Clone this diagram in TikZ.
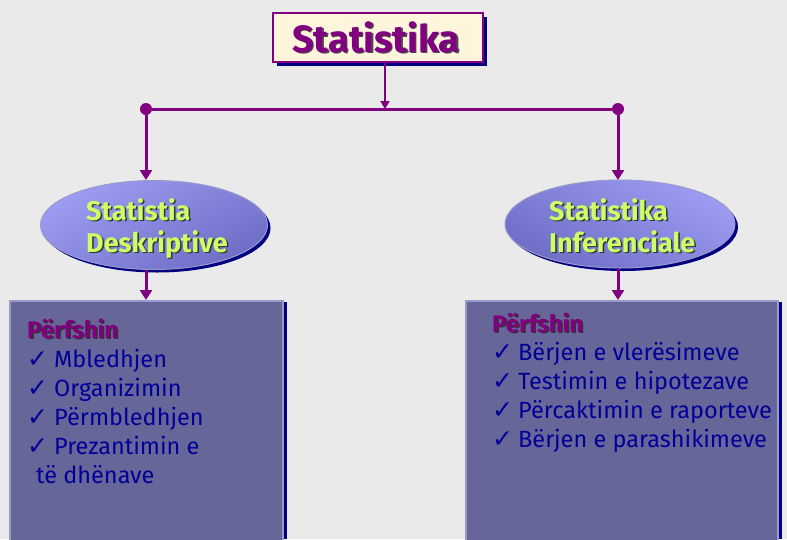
\documentclass[tikz,border=0pt]{standalone}
\usepackage{fontspec}
\setmainfont{Fira Sans}
\newfontfamily\symfont{DejaVu Sans}
\usetikzlibrary{arrows.meta,shadows,shapes.geometric}
\definecolor{bgc}{HTML}{EAEAEA}
\definecolor{purp}{HTML}{800080}
\definecolor{navy}{HTML}{000080}
\definecolor{cream}{HTML}{FFF5DC}
\definecolor{ellA}{HTML}{9C9CF2}
\definecolor{ellB}{HTML}{6E6EC6}
\definecolor{ylw}{HTML}{CCFF66}
\definecolor{boxfill}{HTML}{666699}
\definecolor{boxedge}{HTML}{9999CC}
\definecolor{itemc}{HTML}{000099}
\tikzset{
  conn/.style={draw=purp,line width=3pt},
  connarrow/.style={conn,-{Triangle[length=10pt,width=12pt]}},
  ellnode/.style={ellipse,minimum width=227pt,minimum height=89pt,draw=boxedge,line width=1pt,
    top color=ellA,bottom color=ellB,shading angle=30},
  elltext/.style={anchor=base west,inner sep=0pt,font=\fontsize{27}{27}\selectfont\bfseries},
  headtext/.style={anchor=base west,inner sep=0pt,font=\fontsize{24}{24}\selectfont\bfseries},
  itemtext/.style={anchor=base west,inner sep=0pt,text=itemc,font=\fontsize{23.5}{24}\selectfont},
  checktext/.style={anchor=base west,inner sep=0pt,text=itemc,font=\symfont\fontsize{25}{25}\selectfont},
  itembox/.style={fill=boxfill,draw=boxedge,line width=2pt},
  dot/.style={circle,fill=purp,inner sep=0pt,minimum size=12pt}
}
\begin{document}
\begin{tikzpicture}[x=1pt,y=-1pt]
\fill[bgc] (0,0) rectangle (787,539);
\useasboundingbox (0,0) rectangle (787,539);
% title
\fill[navy] (277,17) rectangle (487,66);
\node[draw=purp,fill=cream,line width=2pt,minimum width=210pt,minimum height=49pt,inner sep=0pt] (title) at (378,37.5) {};
\node[anchor=base west,inner sep=0pt,text=black!70,font=\fontsize{38}{38}\selectfont\bfseries] at (293.5,53.5) {Statistika};
\node[anchor=base west,inner sep=0pt,text=purp,font=\fontsize{38}{38}\selectfont\bfseries] at (292,52) {Statistika};
% junction
\node[dot] (dl) at (146,109) {};
\node[dot] (dr) at (618,109) {};
\coordinate (jc) at (385,109);
\draw[purp,line width=1.8pt,-{Triangle[length=8pt,width=9pt]}] (title.south -| jc) -- (jc);
\draw[conn] (dl) -- (dr);
% ellipses
\fill[navy] (157,228) ellipse (113.5pt and 44.5pt);
\node[ellnode] (e1) at (154,225) {};
\fill[navy] (623,227) ellipse (115pt and 44pt);
\node[ellnode,minimum width=230pt,minimum height=88pt,shading angle=-30] (e2) at (620,224) {};
\draw[connarrow] (dl) -- (146,180);
\draw[connarrow] (dr) -- (618,180);
\node[elltext,text=black!80] at (87.5,221.5) {Statistia};
\node[elltext,text=ylw] at (86,220) {Statistia};
\node[elltext,text=black!80] at (87.5,253.5) {Deskriptive};
\node[elltext,text=ylw] at (86,252) {Deskriptive};
\node[elltext,text=black!80] at (550.5,221.5) {Statistika};
\node[elltext,text=ylw] at (549,220) {Statistika};
\node[elltext,text=black!80] at (550.5,253.5) {Inferenciale};
\node[elltext,text=ylw] at (549,252) {Inferenciale};
% boxes
\fill[navy] (284,302) rectangle (287,539);
\draw[itembox] (10,301) rectangle (283,545);
\fill[navy] (779,302) rectangle (782,539);
\draw[itembox] (466,301) rectangle (778,545);
\coordinate (b1) at (146,300);
\coordinate (b2) at (618,300);
\draw[connarrow] (e1.south -| b1) -- (b1);
\draw[connarrow] (618,269) -- (b2);
% box 1 texts
\node[headtext,text=black!80] at (28.5,339.5) {Përfshin};
\node[headtext,text=purp] at (27,338) {Përfshin};
\foreach \t [count=\i] in {Mbledhjen,Organizimin,Përmbledhjen,Prezantimin e}{
  \node[checktext] at (27,367+29*\i-29) {✓};
  \node[itemtext] at (54,367+29*\i-29) {\t};
}
\node[itemtext] at (36,483) {të dhënave};
% box 2 texts
\node[headtext,text=black!80] at (493.5,333.5) {Përfshin};
\node[headtext,text=purp] at (492,332) {Përfshin};
\foreach \t [count=\i] in {Bërjen e vlerësimeve,Testimin e hipotezave,Përcaktimin e raporteve,Bërjen e parashikimeve}{
  \node[checktext] at (492,360+29*\i-29) {✓};
  \node[itemtext] at (518,360+29*\i-29) {\t};
}
\end{tikzpicture}
\end{document}
